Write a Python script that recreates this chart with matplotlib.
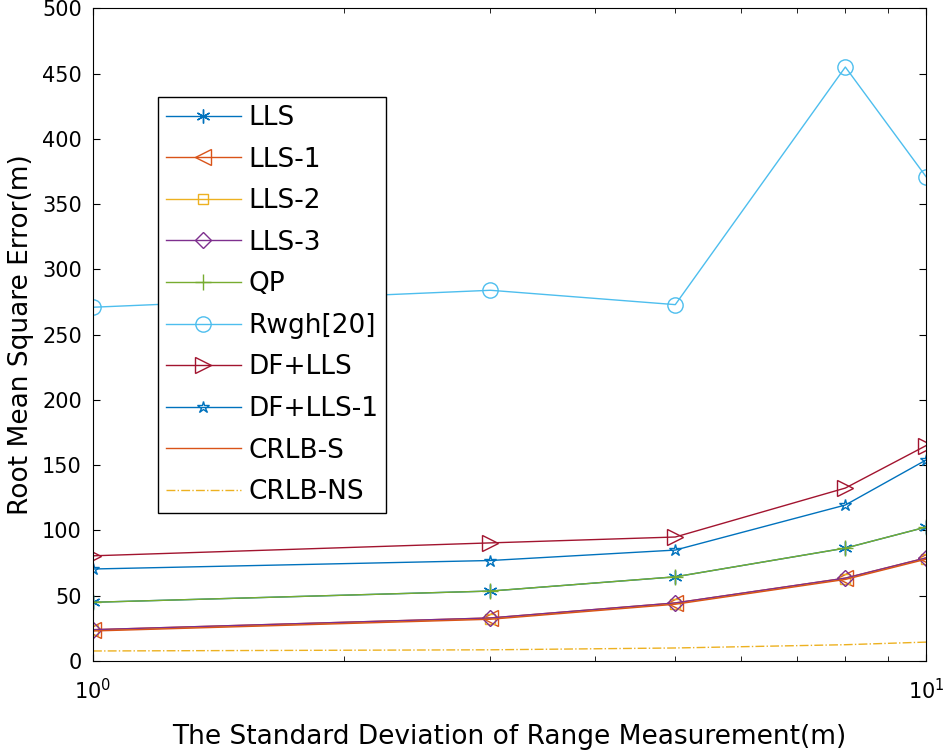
import numpy as np
import matplotlib.pyplot as plt
from matplotlib.ticker import LogLocator, NullFormatter, MultipleLocator

plt.rcParams['font.family'] = ['DejaVu Sans']
plt.rcParams['mathtext.fontset'] = 'dejavusans'

# standard deviation of range measurement (m)
sigma = [1, 3, 5, 8, 10]

# RMSE values (m)
lls     = [45.0, 53.6, 64.5, 86.5, 102.6]
lls1    = [24.0, 33.0, 44.5, 63.5, 79.0]
lls2    = [23.5, 32.5, 44.0, 63.0, 78.5]
lls3    = [24.0, 33.0, 44.5, 63.5, 79.0]
qp      = [45.0, 53.6, 64.5, 86.5, 102.6]
rwgh    = [271, 284, 273, 455, 371]
df_lls  = [80.6, 90.5, 95.0, 132.5, 165.0]
df_lls1 = [70.5, 77.0, 85.0, 119.5, 154.0]
crlb_s  = [23.0, 32.0, 43.5, 62.5, 78.0]
crlb_ns = [7.7, 8.6, 10.0, 12.5, 14.5]

fig = plt.figure(figsize=(9.44, 7.54), dpi=100)
ax = fig.add_axes([0.0985, 0.1233, 0.8825, 0.8657])

asterisk = (6, 2, 0)
ax.plot(sigma, lls, color='#0072BD', marker=asterisk, ms=10, lw=1, label='LLS')
ax.plot(sigma, lls1, color='#D95319', marker='<', ms=11, mfc='none', lw=1, label='LLS-1')
ax.plot(sigma, lls2, color='#EDB120', marker='s', ms=7, mfc='none', lw=1, label='LLS-2')
ax.plot(sigma, lls3, color='#7E2F8E', marker='D', ms=8, mfc='none', lw=1, label='LLS-3')
ax.plot(sigma, qp, color='#77AC30', marker='+', ms=11, lw=1, label='QP')
ax.plot(sigma, rwgh, color='#4DBEEE', marker='o', ms=11, mfc='none', lw=1, label='Rwgh[20]')
ax.plot(sigma, df_lls, color='#A2142F', marker='>', ms=11, mfc='none', lw=1, label='DF+LLS')
ax.plot(sigma, df_lls1, color='#0072BD', marker='*', ms=9, mfc='none', lw=1, label='DF+LLS-1')
ax.plot(sigma, crlb_s, color='#D95319', lw=1, label='CRLB-S')
ax.plot(sigma, crlb_ns, color='#EDB120', ls='-.', lw=1, label='CRLB-NS')

ax.set_xscale('log')
ax.set_xlim(1, 10)
ax.set_ylim(0, 500)
ax.yaxis.set_major_locator(MultipleLocator(50))
ax.xaxis.set_minor_locator(LogLocator(base=10, subs=np.arange(2, 10)))
ax.xaxis.set_minor_formatter(NullFormatter())
ax.tick_params(which='both', direction='in', top=True, right=True, labelsize=15)
ax.tick_params(which='major', length=5)
ax.tick_params(which='minor', length=3.5)
ax.tick_params(axis='x', pad=12)
ax.tick_params(axis='y', pad=8)

ax.set_xlabel('The Standard Deviation of Range Measurement(m)', fontsize=19, labelpad=15)
ax.set_ylabel('Root Mean Square Error(m)', fontsize=19, labelpad=6)

leg = ax.legend(loc='upper left', bbox_to_anchor=(0.078, 0.864), borderaxespad=0,
                fontsize=19, frameon=True, fancybox=False, edgecolor='black',
                framealpha=1, handlelength=2.85, labelspacing=0.59, borderpad=0.3,
                handletextpad=0.27)
leg.get_frame().set_linewidth(1)

plt.savefig('out.png', dpi=100)
